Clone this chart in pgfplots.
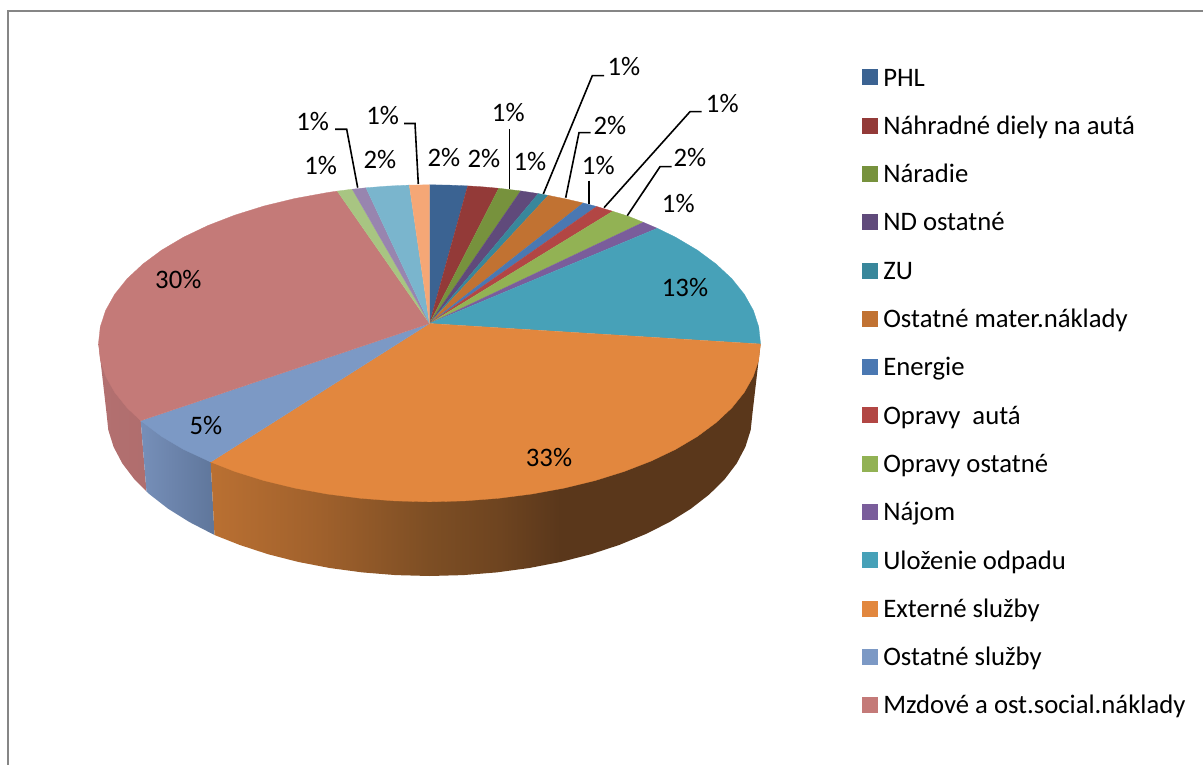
\documentclass[border=0pt]{standalone}
\usepackage{pgfplots}
\pgfplotsset{compat=1.18}
\usepackage{fontspec}
\setmainfont{Carlito}
\definecolor{cPHL}{RGB}{59,99,146}
\definecolor{cNAH}{RGB}{147,58,56}
\definecolor{cNAR}{RGB}{119,146,61}
\definecolor{cND}{RGB}{96,74,123}
\definecolor{cZU}{RGB}{57,135,155}
\definecolor{cOST}{RGB}{193,114,50}
\definecolor{cENE}{RGB}{74,120,178}
\definecolor{cOPA}{RGB}{178,70,68}
\definecolor{cOPO}{RGB}{146,178,84}
\definecolor{cNAJ}{RGB}{122,93,155}
\definecolor{cULO}{RGB}{71,161,184}
\definecolor{cEXT}{RGB}{226,135,62}
\definecolor{cOSL}{RGB}{124,153,197}
\definecolor{cMZD}{RGB}{196,122,120}
\definecolor{cX1}{RGB}{168,197,130}
\definecolor{cX2}{RGB}{152,133,175}
\definecolor{cX3}{RGB}{122,181,205}
\definecolor{cX4}{RGB}{245,167,118}
\definecolor{cBorder}{RGB}{134,134,134}
\pgfdeclarehorizontalshading{sideEXT}{100bp}{
 rgb(0bp)=(0.729,0.439,0.196);
 rgb(25bp)=(0.729,0.439,0.196);
 rgb(34.9bp)=(0.627,0.380,0.173);
 rgb(44.9bp)=(0.490,0.306,0.141);
 rgb(51.3bp)=(0.431,0.267,0.125);
 rgb(56.8bp)=(0.353,0.216,0.106);
 rgb(75bp)=(0.353,0.216,0.106);
 rgb(100bp)=(0.353,0.216,0.106)}
\pgfdeclarehorizontalshading{sideOSL}{100bp}{
 rgb(0bp)=(0.463,0.561,0.725);
 rgb(25bp)=(0.463,0.561,0.725);
 rgb(75bp)=(0.373,0.463,0.608);
 rgb(100bp)=(0.373,0.463,0.608)}
\pgfdeclarehorizontalshading{sideMZD}{100bp}{
 rgb(0bp)=(0.700,0.440,0.440);
 rgb(25bp)=(0.700,0.440,0.440);
 rgb(75bp)=(0.660,0.395,0.395);
 rgb(100bp)=(0.660,0.395,0.395)}
\tikzset{pct/.style={font=\fontsize{26.7}{30}\selectfont, inner sep=0pt}}
\begin{document}
\begin{tikzpicture}
\begin{axis}[
  scale only axis, width=1203pt, height=765pt,
  xmin=0, xmax=1203, ymin=0, ymax=765, y dir=reverse,
  hide axis, no markers,
  legend cell align=left,
  legend image code/.code={\path[#1] (0pt,-4.5pt) rectangle (15pt,10.5pt);},
  legend style={at={(axis cs:862,67)}, anchor=north west, draw=none, fill=none,
    inner sep=0pt, outer sep=0pt, row sep=22.3pt, column sep=6pt,
    font=\fontsize{26.7}{30}\selectfont,
    nodes={inner sep=0pt, outer sep=0pt, text height=19pt, text depth=7pt}},
]
% frame
\addplot[forget plot, draw=none] coordinates {(0,0) (1203,765)};
\addplot[forget plot, cBorder, line width=2pt] coordinates {(8,765) (8,11) (1203,11)};
% sides of the pie
\addplot[forget plot, draw=none, shading=sideMZD] coordinates {
 (140.7,420.7)(146.5,491.5)(134.4,479.3)(122.3,463.4)(113.6,446.9)(108.3,430)(106.5,413)(98.5,343.3)(300,343)};
\addplot[forget plot, draw=none, shading=sideOSL] coordinates {
 (210.7,462)(214.5,535)(189.5,522.1)(168.2,508.8)(149.8,494.5)(146.5,491.5)(140.7,420.7)};
\addplot[forget plot, draw=none, shading=sideEXT] coordinates {
 (760.5,344)(752.5,413)(750.7,430)(745.4,446.9)(736.7,463.4)(724.6,479.3)(709.2,494.5)(690.8,508.8)(669.5,522.1)(645.6,534.1)(619.4,544.9)(591,554.2)(560.9,561.9)(529.3,568)(496.7,572.4)(463.3,575.1)(429.5,576)(395.7,575.1)(362.3,572.4)(329.7,568)(298.1,561.9)(268,554.2)(239.6,544.9)(214.5,535)(210.7,462)};
% top faces
\addplot[fill=cPHL, draw=cPHL, line width=.3pt] coordinates {(429.5,323.5)(429.5,184.8)(448.6,185.1)(467.7,185.9)};
\addlegendentry{PHL}
\addplot[fill=cNAH, draw=cNAH, line width=.3pt] coordinates {(429.5,323.5)(467.7,185.9)(483.2,186.9)(498.7,188.3)};
\addlegendentry{Náhradné diely na autá}
\addplot[fill=cNAR, draw=cNAR, line width=.3pt] coordinates {(429.5,323.5)(498.7,188.3)(520.7,190.9)};
\addlegendentry{Náradie}
\addplot[fill=cND, draw=cND, line width=.3pt] coordinates {(429.5,323.5)(520.7,190.9)(538.3,193.6)};
\addlegendentry{ND ostatné}
\addplot[fill=cZU, draw=cZU, line width=.3pt] coordinates {(429.5,323.5)(538.3,193.6)(548.3,195.4)};
\addlegendentry{ZU}
\addplot[fill=cOST, draw=cOST, line width=.3pt] coordinates {(429.5,323.5)(548.3,195.4)(566,199)(583.3,203)};
\addlegendentry{Ostatné mater.náklady}
\addplot[fill=cENE, draw=cENE, line width=.3pt] coordinates {(429.5,323.5)(583.3,203)(596.7,206.5)};
\addlegendentry{Energie}
\addplot[fill=cOPA, draw=cOPA, line width=.3pt] coordinates {(429.5,323.5)(596.7,206.5)(612.7,211.3)};
\addlegendentry{Opravy\ \ autá}
\addplot[fill=cOPO, draw=cOPO, line width=.3pt] coordinates {(429.5,323.5)(612.7,211.3)(628.5,216.3)(643.3,222.3)};
\addlegendentry{Opravy ostatné}
\addplot[fill=cNAJ, draw=cNAJ, line width=.3pt] coordinates {(429.5,323.5)(643.3,222.3)(657.3,228.3)};
\addlegendentry{Nájom}
\addplot[fill=cULO, draw=cULO, line width=.3pt] coordinates {(429.5,323.5)(657.3,228.3)(675.5,237.2)(697.3,250.1)(716.1,264.05)(731.9,278.8)(744.3,294.3)(753.3,310.3)(758.7,326.7)(760.5,343.3)(760.5,344)};
\addlegendentry{Uloženie odpadu}
\addplot[fill=cEXT, draw=cEXT, line width=.3pt] coordinates {(429.5,323.5)(760.5,344)(758.7,359.9)(753.3,376.3)(744.3,392.3)(731.9,407.8)(716.1,422.55)(697.3,436.5)(675.5,449.4)(651,461.1)(624.1,471.5)(595,480.6)(564.1,488.1)(531.8,494)(498.3,498.3)(464.1,500.9)(429.5,501.8)(394.9,500.9)(360.7,498.3)(327.2,494)(294.9,488.1)(264,480.6)(234.9,471.5)(210.7,462)};
\addlegendentry{Externé služby}
\addplot[fill=cOSL, draw=cOSL, line width=.3pt] coordinates {(429.5,323.5)(210.7,462)(183.5,449.4)(161.7,436.5)(140.7,420.7)};
\addlegendentry{Ostatné služby}
\addplot[fill=cMZD, draw=cMZD, line width=.3pt] coordinates {(429.5,323.5)(140.7,420.7)(127.1,407.8)(114.7,392.3)(105.7,376.3)(100.3,359.9)(98.5,343.3)(100.3,326.7)(105.7,310.3)(114.7,294.3)(127.1,278.8)(142.9,264.05)(161.7,250.1)(183.5,237.2)(208,225.5)(234.9,215.1)(264,206)(294.9,198.5)(327.2,192.6)(337.3,191.1)};
\addlegendentry{Mzdové a ost.social.náklady}
\addplot[forget plot, fill=cX1, draw=cX1, line width=.3pt] coordinates {(429.5,323.5)(337.3,191.1)(352.3,189.2)};
\addplot[forget plot, fill=cX2, draw=cX2, line width=.3pt] coordinates {(429.5,323.5)(352.3,189.2)(366,187.8)};
\addplot[forget plot, fill=cX3, draw=cX3, line width=.3pt] coordinates {(429.5,323.5)(366,187.8)(387.6,186.1)(409.3,185.1)};
\addplot[forget plot, fill=cX4, draw=cX4, line width=.3pt] coordinates {(429.5,323.5)(409.3,185.1)(429.5,184.8)};
% leader lines
\addplot[forget plot, black, line width=1.6pt] coordinates {(404,123.5)(415,123.5)(418.3,184)};
\addplot[forget plot, black, line width=1.6pt] coordinates {(335,129.3)(346.7,129.3)(357.7,187.7)};
\addplot[forget plot, black, line width=1.6pt] coordinates {(509.3,129.3)(509.3,189.3)};
\addplot[forget plot, black, line width=1.6pt] coordinates {(604,75.7)(592.3,75.7)(543.3,194)};
\addplot[forget plot, black, line width=1.6pt] coordinates {(590.7,132.7)(579,132.7)(565.7,197.7)};
\addplot[forget plot, black, line width=1.6pt] coordinates {(589,180.7)(589,204)};
\addplot[forget plot, black, line width=1.6pt] coordinates {(701.7,111.7)(690,111.7)(604,207.7)};
\addplot[forget plot, black, line width=1.6pt] coordinates {(671.7,166.7)(660,166.7)(627.3,215.7)};
% percentage labels
\node[pct] at (axis cs:444,158) {2\%};
\node[pct] at (axis cs:484,159) {2\%};
\node[pct] at (axis cs:508.3,113) {1\%};
\node[pct] at (axis cs:530,161.7) {1\%};
\node[pct] at (axis cs:624,66.7) {1\%};
\node[pct] at (axis cs:610,126) {2\%};
\node[pct] at (axis cs:598.3,166) {1\%};
\node[pct] at (axis cs:722.3,103.3) {1\%};
\node[pct] at (axis cs:690,157.7) {2\%};
\node[pct] at (axis cs:678.3,203.3) {1\%};
\node[pct] at (axis cs:685,288) {13\%};
\node[pct] at (axis cs:549,457.7) {33\%};
\node[pct] at (axis cs:206,426) {5\%};
\node[pct] at (axis cs:178.3,280) {30\%};
\node[pct] at (axis cs:312.7,121.7) {1\%};
\node[pct] at (axis cs:320.7,166) {1\%};
\node[pct] at (axis cs:380,160) {2\%};
\node[pct] at (axis cs:382.7,115.7) {1\%};
\end{axis}
\end{tikzpicture}
\end{document}
